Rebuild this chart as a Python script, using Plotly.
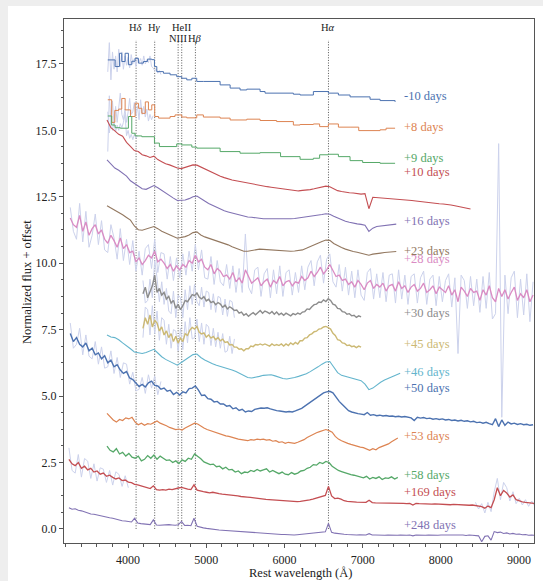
import numpy as np
import plotly.graph_objects as go

# ---------------------------------------------------------------- palette
PALETTE = ["#4C72B0", "#DD8452", "#55A868", "#C44E52", "#8172B3",
           "#937860", "#DA8BC3", "#8C8C8C", "#CCB974", "#64B5CD"]
RAW_COLOR = "#ccd2ec"
SERIF = "Liberation Serif"

# ---------------------------------------------------------------- epochs
EPOCHS = ["-10 days", "+8 days", "+9 days", "+10 days", "+16 days", "+23 days",
          "+28 days", "+30 days", "+45 days", "+46 days", "+50 days", "+53 days",
          "+58 days", "+169 days", "+248 days"]
LABEL_WL = 7500
LABEL_Y = [16.30, 15.13, 13.96, 13.44, 11.57, 10.47, 10.16, 8.13, 6.96, 5.91,
           5.31, 3.51, 2.03, 1.40, 0.15]

# ---------------------------------------------------------------- line ids
LINE_NAMES = ["H<i>δ</i>", "H<i>γ</i>", "NIII", "HeII", "H<i>β</i>", "H<i>α</i>"]
LINE_WL = [4102, 4340, 4640, 4686, 4861, 6563]
LINE_LABEL_Y = [18.88, 18.88, 18.47, 18.86, 18.47, 18.88]
LINE_TOP = 18.4

# ---------------------------------------------------------------- binned early spectra (bin start, flux)
WL_M10 = [3740, 3834, 3889, 3919, 3962, 4004, 4047, 4090, 4132, 4196, 4247, 4303,
          4337, 4367, 4452, 4537, 4622, 4686, 4750, 4815, 4878, 4963, 5177, 5305,
          5432, 5518, 5688, 5752, 6114, 6200, 6370, 6562, 6690, 6839, 7095, 7223, 7415]
FLUX_M10 = [17.65, 17.40, 17.90, 17.59, 17.90, 17.47, 17.60, 17.71, 17.53, 17.59,
            17.68, 17.66, 17.40, 17.21, 17.15, 17.09, 17.02, 16.96, 16.90, 16.96,
            16.84, 16.84, 16.71, 16.59, 16.52, 16.55, 16.46, 16.40, 16.36, 16.33,
            16.46, 16.40, 16.33, 16.26, 16.17, 16.12, 16.07]

WL_P8 = [3740, 3790, 3830, 3880, 3919, 3962, 4030, 4090, 4132, 4175, 4220, 4260,
         4303, 4340, 4390, 4537, 4600, 4686, 4750, 4878, 4963, 5177, 5305, 5518,
         5688, 5900, 6114, 6200, 6370, 6450, 6562, 6690, 6839, 6950, 7223, 7300, 7415]
FLUX_P8 = [16.15, 15.30, 15.75, 15.80, 16.20, 15.77, 15.52, 16.02, 15.83, 15.64,
           16.07, 15.77, 15.96, 15.52, 15.46, 15.52, 15.58, 15.50, 15.47, 15.58,
           15.50, 15.46, 15.39, 15.42, 15.37, 15.33, 15.20, 15.22, 15.24, 15.14,
           15.24, 15.12, 15.12, 14.99, 15.02, 15.08, 15.08]

WL_P9 = [3740, 3790, 3834, 3900, 4004, 4047, 4090, 4175, 4337, 4400, 4622, 4686,
         4815, 4878, 5177, 5432, 5688, 5950, 6200, 6370, 6450, 6562, 6690, 6839,
         7000, 7223, 7415]
FLUX_P9 = [15.54, 15.20, 15.10, 15.08, 15.52, 14.89, 14.79, 14.76, 14.52, 14.39,
           14.49, 14.45, 14.37, 14.33, 14.20, 14.14, 14.16, 14.01, 13.91, 13.95,
           14.08, 14.10, 14.01, 13.86, 13.79, 13.76, 13.76]

# ---------------------------------------------------------------- evenly sampled spectra (start, step, flux)
START_P10, STEP_P10 = 3730, 50
FLUX_P10 = [15.39, 15.10, 14.98, 14.85, 14.78, 14.55, 14.40, 14.24, 14.20, 14.08,
            14.04, 13.98, 14.03, 13.90, 13.82, 13.74, 13.70, 13.63, 13.58, 13.56,
            13.60, 13.64, 13.70, 13.69, 13.62, 13.52, 13.46, 13.40, 13.33, 13.27,
            13.22, 13.17, 13.13, 13.10, 13.07, 13.04, 13.01, 12.98, 12.96, 12.94,
            12.91, 12.88, 12.86, 12.84, 12.81, 12.78, 12.76, 12.74, 12.72, 12.72,
            12.74, 12.75, 12.77, 12.80, 12.83, 12.86, 12.90, 12.88, 12.80, 12.73,
            12.70, 12.67, 12.65, 12.64, 12.61, 12.60, 12.62, 12.05, 12.48, 12.47,
            12.45, 12.43, 12.42, 12.41, 12.40, 12.39, 12.38, 12.37, 12.36, 12.34,
            12.32, 12.30, 12.28, 12.27, 12.25, 12.24, 12.23, 12.22, 12.19, 12.16,
            12.13, 12.10, 12.07, 12.04]

START_P16, STEP_P16 = 3730, 50
FLUX_P16 = [13.89, 13.74, 13.58, 13.50, 13.38, 13.28, 13.10, 13.00, 12.88, 12.80,
            12.78, 12.86, 12.92, 12.84, 12.74, 12.62, 12.52, 12.45, 12.36, 12.37,
            12.38, 12.43, 12.50, 12.53, 12.42, 12.34, 12.25, 12.18, 12.08, 12.03,
            11.97, 11.93, 11.89, 11.84, 11.81, 11.77, 11.74, 11.73, 11.70, 11.69,
            11.67, 11.67, 11.65, 11.66, 11.65, 11.67, 11.65, 11.67, 11.68, 11.70,
            11.72, 11.73, 11.76, 11.78, 11.80, 11.83, 11.86, 11.84, 11.77, 11.70,
            11.63, 11.58, 11.54, 11.50, 11.48, 11.46, 11.43, 11.20, 11.32, 11.38,
            11.40, 11.42, 11.44, 11.46, 11.47]

START_P23, STEP_P23 = 3730, 50
FLUX_P23 = [12.16, 12.08, 12.00, 11.90, 11.82, 11.72, 11.62, 11.40, 11.26, 11.24,
            11.28, 11.34, 11.38, 11.30, 11.20, 11.14, 11.06, 11.00, 10.94, 10.96,
            11.00, 11.06, 11.15, 11.18, 11.06, 10.99, 10.94, 10.89, 10.84, 10.81,
            10.75, 10.69, 10.62, 10.56, 10.50, 10.45, 10.45, 10.48, 10.51, 10.53,
            10.52, 10.51, 10.49, 10.48, 10.47, 10.46, 10.45, 10.45, 10.46, 10.47,
            10.50, 10.56, 10.63, 10.70, 10.76, 10.82, 10.87, 10.86, 10.74, 10.65,
            10.59, 10.53, 10.48, 10.44, 10.41, 10.38, 10.35, 10.30, 10.34, 10.37,
            10.38, 10.40, 10.42, 10.43, 10.44]

START_P28, STEP_P28 = 3260, 40
FLUX_P28 = [11.70, 11.45, 11.35, 11.80, 11.20, 11.55, 11.05, 11.30, 11.45, 11.10,
            11.25, 10.90, 10.75, 11.05, 10.85, 10.60, 10.95, 10.55, 10.70, 10.40,
            10.45, 10.05, 10.20, 9.95, 10.10, 10.30, 10.20, 10.45, 10.05, 10.15,
            10.00, 9.80, 9.95, 9.70, 9.90, 9.75, 9.95, 9.85, 10.10, 10.00,
            10.30, 10.05, 10.15, 9.85, 9.75, 9.95, 9.60, 9.80, 9.70, 9.50,
            9.55, 9.40, 9.65, 9.30, 9.45, 9.25, 9.75, 9.50, 9.25, 9.35,
            9.45, 9.15, 9.30, 9.40, 9.10, 9.35, 9.25, 9.50, 9.15, 9.30,
            9.35, 9.15, 9.30, 9.25, 9.50, 9.35, 9.45, 9.70, 9.50, 9.65,
            9.85, 9.60, 9.75, 9.95, 9.70, 9.50, 9.55, 9.35, 9.40, 9.20,
            9.30, 9.10, 9.35, 9.20, 9.00, 9.25, 9.35, 9.05, 9.20, 9.10,
            9.25, 8.95, 9.15, 9.20, 8.95, 9.30, 9.05, 9.15, 8.90, 9.10,
            9.20, 8.95, 9.05, 9.25, 8.90, 9.00, 9.15, 8.85, 9.10, 9.00,
            8.90, 9.15, 8.80, 9.00, 8.55, 9.10, 8.95, 8.75, 9.05, 8.90,
            8.95, 8.60, 9.00, 8.80, 9.15, 8.70, 8.55, 9.05, 8.75, 9.00,
            8.65, 8.90, 9.10, 8.60, 8.85, 8.70, 9.00, 8.55, 8.80]
RAW_P28 = [12.10, 11.20, 10.90, 12.25, 10.80, 11.95, 10.60, 11.05, 11.85, 10.70,
           11.60, 10.50, 10.40, 11.45, 10.95, 10.15, 11.30, 10.10, 10.90, 9.95,
           10.85, 9.70, 10.45, 9.55, 10.55, 10.70, 9.80, 10.90, 9.65, 10.40,
           10.35, 9.40, 10.25, 9.35, 10.20, 9.45, 10.35, 9.55, 10.45, 9.70,
           10.70, 9.75, 10.50, 9.45, 9.40, 10.25, 9.20, 10.10, 9.30, 9.15,
           9.95, 9.05, 9.90, 8.90, 9.80, 8.90, 11.10, 9.10, 8.85, 9.75,
           9.85, 8.75, 9.60, 9.80, 8.70, 9.75, 8.85, 9.90, 8.75, 9.65,
           9.75, 8.80, 9.65, 8.90, 9.90, 9.00, 9.85, 10.10, 9.15, 10.05,
           10.30, 9.25, 10.15, 10.35, 9.30, 9.10, 9.95, 8.95, 9.85, 8.80,
           9.70, 8.70, 9.75, 8.80, 8.60, 9.65, 9.80, 8.65, 9.60, 8.70,
           9.65, 8.55, 9.55, 9.60, 8.50, 9.75, 8.65, 9.55, 8.45, 9.50,
           9.60, 8.50, 9.45, 9.70, 8.45, 9.40, 9.55, 8.40, 9.50, 8.55,
           9.35, 9.60, 8.35, 9.45, 6.60, 9.55, 9.35, 8.30, 9.50, 8.40,
           9.40, 8.15, 9.50, 8.30, 9.65, 7.90, 8.10, 14.50, 4.20, 9.55,
           8.10, 9.45, 9.70, 7.95, 9.40, 8.05, 9.60, 7.80, 9.30]

START_P30, STEP_P30 = 4190, 30
FLUX_P30 = [8.85, 9.10, 8.70, 8.95, 9.15, 9.55, 8.90, 9.05, 8.80, 8.90,
            8.65, 8.75, 8.50, 8.60, 8.30, 8.45, 8.25, 8.40, 8.60, 8.55,
            8.70, 8.82, 8.78, 8.88, 8.72, 8.66, 8.74, 8.58, 8.64, 8.52,
            8.56, 8.44, 8.52, 8.46, 8.34, 8.42, 8.28, 8.36, 8.30, 8.22,
            8.24, 8.12, 8.16, 8.04, 8.10, 8.00, 8.08, 8.14, 8.06, 8.16,
            8.22, 8.12, 8.20, 8.16, 8.10, 8.18, 8.08, 8.16, 8.06, 8.12,
            8.04, 8.12, 8.06, 8.02, 8.10, 8.06, 8.12, 8.08, 8.16, 8.18,
            8.28, 8.26, 8.36, 8.44, 8.46, 8.54, 8.52, 8.62, 8.56, 8.66,
            8.60, 8.46, 8.42, 8.30, 8.28, 8.18, 8.16, 8.08, 8.10, 8.02,
            8.04, 7.96, 8.02, 7.98]
RAW_P30 = [9.35, 8.50, 8.60, 9.40, 8.70, 10.10, 9.45, 8.55, 9.30, 8.45,
           9.05, 8.20, 8.10, 8.95, 7.95, 8.80, 8.70, 7.95, 9.00, 8.25,
           9.15, 8.45, 9.20, 8.55, 8.40, 9.10, 8.35, 8.95, 8.90, 8.25,
           8.85, 8.15, 8.75, 8.70, 8.05, 8.65, 8.00, 8.60, 8.55, 7.95]

START_P45, STEP_P45 = 4190, 30
FLUX_P45 = [7.55, 7.95, 7.70, 8.05, 7.60, 7.85, 7.75, 7.45, 7.60, 7.30,
            7.45, 7.20, 7.35, 7.05, 7.25, 7.00, 7.18, 7.05, 7.35, 7.28,
            7.48, 7.58, 7.52, 7.62, 7.40, 7.34, 7.38, 7.22, 7.30, 7.18,
            7.24, 7.12, 7.20, 7.08, 7.14, 7.02, 7.04, 6.92, 6.94, 6.84,
            6.84, 6.76, 6.78, 6.70, 6.78, 6.78, 6.88, 6.86, 6.94, 6.92,
            6.96, 6.92, 6.96, 6.92, 6.88, 6.96, 6.90, 6.94, 6.90, 6.96,
            6.88, 6.96, 6.90, 7.00, 6.94, 7.02, 6.96, 7.08, 7.08, 7.18,
            7.20, 7.30, 7.34, 7.42, 7.44, 7.52, 7.54, 7.60, 7.62, 7.58,
            7.52, 7.36, 7.28, 7.12, 7.10, 7.00, 6.98, 6.90, 6.92, 6.86,
            6.88, 6.82, 6.88, 6.84]
RAW_P45 = [7.20, 8.35, 8.25, 7.30, 8.40, 7.35, 8.20, 7.10, 7.95, 7.85,
           6.95, 7.70, 6.80, 7.50, 7.45, 6.70, 7.55, 6.75, 7.80, 7.00,
           7.95, 7.15, 7.20, 7.90, 7.05, 7.75, 6.95, 7.70, 7.60, 6.90,
           7.55, 6.85, 7.40, 6.80, 7.35, 6.65, 6.70, 7.25, 6.60, 7.15]

START_P46, STEP_P46 = 3730, 50
FLUX_P46 = [7.30, 7.22, 7.20, 7.12, 7.00, 6.90, 6.78, 6.66, 6.62, 6.60,
            6.64, 6.70, 6.76, 6.62, 6.48, 6.38, 6.30, 6.22, 6.16, 6.26,
            6.36, 6.46, 6.56, 6.58, 6.45, 6.36, 6.28, 6.22, 6.16, 6.12,
            6.08, 6.04, 5.98, 5.92, 5.84, 5.76, 5.70, 5.68, 5.70, 5.74,
            5.78, 5.80, 5.80, 5.76, 5.70, 5.66, 5.64, 5.66, 5.70, 5.74,
            5.78, 5.84, 5.92, 6.00, 6.10, 6.20, 6.28, 6.30, 6.10, 5.88,
            5.78, 5.74, 5.70, 5.66, 5.62, 5.58, 5.45, 5.24, 5.30, 5.42,
            5.52, 5.60, 5.66, 5.72, 5.80, 5.86]

START_P50, STEP_P50 = 3260, 40
FLUX_P50 = [7.35, 7.05, 7.20, 6.95, 6.85, 7.00, 6.70, 6.80, 6.55, 6.62,
            6.40, 6.52, 6.25, 6.35, 6.10, 6.18, 5.98, 5.85, 5.92, 5.68,
            5.62, 5.48, 5.36, 5.44, 5.34, 5.50, 5.56, 5.40, 5.38, 5.26,
            5.30, 5.18, 5.22, 5.06, 5.14, 5.04, 5.16, 5.12, 5.28, 5.30,
            5.38, 5.22, 5.02, 5.04, 4.90, 4.88, 4.78, 4.80, 4.70, 4.70,
            4.62, 4.64, 4.52, 4.56, 4.46, 4.50, 4.40, 4.44, 4.42, 4.50,
            4.52, 4.55, 4.54, 4.56, 4.52, 4.48, 4.45, 4.44, 4.42, 4.40,
            4.42, 4.40, 4.44, 4.48, 4.54, 4.62, 4.70, 4.80, 4.88, 4.96,
            5.04, 5.12, 5.16, 5.18, 5.12, 4.95, 4.80, 4.68, 4.55, 4.45,
            4.40, 4.36, 4.34, 4.32, 4.30, 4.38, 4.28, 4.30, 4.26, 4.28,
            4.25, 4.27, 4.24, 4.25, 4.22, 4.24, 4.21, 4.23, 4.20, 4.18,
            4.08, 4.20, 4.17, 4.19, 4.15, 4.17, 4.13, 4.15, 4.12, 4.14,
            4.10, 4.12, 4.08, 4.10, 4.06, 4.09, 4.05, 4.07, 4.03, 4.05,
            4.00, 4.02, 3.98, 4.01, 3.96, 3.92, 4.15, 3.85, 4.10, 3.90,
            4.02, 3.95, 3.98, 3.93, 3.96, 3.92, 3.94, 3.90, 3.92]
RAW_P50 = [7.75, 6.80, 6.95, 7.55, 6.55, 7.30, 6.50, 6.40, 7.05, 6.20,
           6.85, 6.05, 6.10, 6.70, 5.85, 6.45, 5.70, 6.25, 6.20, 5.45,
           5.90, 5.20, 5.25, 5.70, 5.10, 5.80, 5.30, 5.75, 5.05, 5.55]

START_P53, STEP_P53 = 3730, 40
FLUX_P53 = [4.35, 4.22, 4.10, 4.02, 4.12, 4.08, 4.18, 4.14, 4.20, 4.02,
            3.92, 3.98, 3.90, 3.96, 3.94, 4.00, 4.06, 3.98, 3.94, 3.88,
            3.82, 3.78, 3.74, 3.76, 3.72, 3.80, 3.86, 3.92, 3.98, 3.95,
            3.86, 3.80, 3.74, 3.70, 3.64, 3.62, 3.56, 3.54, 3.50, 3.48,
            3.44, 3.42, 3.38, 3.36, 3.34, 3.32, 3.36, 3.34, 3.38, 3.36,
            3.38, 3.34, 3.36, 3.30, 3.32, 3.26, 3.28, 3.22, 3.26, 3.24,
            3.22, 3.26, 3.30, 3.36, 3.44, 3.50, 3.58, 3.62, 3.66, 3.70,
            3.74, 3.70, 3.64, 3.48, 3.38, 3.32, 3.26, 3.22, 3.18, 3.14,
            3.10, 3.08, 3.06, 3.00, 2.96, 3.02, 2.98, 3.06, 3.10, 3.14,
            3.20, 3.28, 3.34, 3.42]

START_P58, STEP_P58 = 3730, 40
FLUX_P58 = [3.12, 2.96, 2.90, 3.02, 2.82, 2.88, 2.74, 2.84, 2.70, 2.66,
            2.74, 2.56, 2.62, 2.76, 2.66, 2.78, 2.62, 2.74, 2.66, 2.58,
            2.60, 2.50, 2.56, 2.46, 2.60, 2.54, 2.66, 2.62, 2.82, 2.74,
            2.64, 2.52, 2.48, 2.42, 2.44, 2.34, 2.36, 2.26, 2.32, 2.22,
            2.24, 2.14, 2.18, 2.08, 2.14, 2.12, 2.20, 2.16, 2.24, 2.18,
            2.22, 2.26, 2.14, 2.20, 2.14, 2.08, 2.14, 2.06, 2.04, 2.12,
            2.06, 2.10, 2.18, 2.20, 2.28, 2.32, 2.42, 2.40, 2.50, 2.46,
            2.54, 2.50, 2.36, 2.28, 2.20, 2.16, 2.12, 2.06, 2.04, 2.02,
            1.98, 1.96, 1.92, 1.98, 1.88, 1.94, 1.90, 1.96, 1.86, 1.92,
            1.90, 1.96, 1.88, 1.94]

START_P169, STEP_P169 = 3243, 40
FLUX_P169 = [2.62, 2.45, 2.38, 2.50, 2.28, 2.36, 2.22, 2.28, 2.14, 2.18,
             2.06, 2.10, 1.98, 2.02, 1.94, 1.88, 1.92, 1.82, 1.84, 1.76,
             1.74, 1.68, 1.66, 1.62, 1.60, 1.56, 1.52, 1.62, 1.48, 1.46,
             1.48, 1.46, 1.50, 1.48, 1.52, 1.54, 1.56, 1.52, 1.50, 1.48,
             1.66, 1.46, 1.42, 1.40, 1.38, 1.36, 1.38, 1.34, 1.33, 1.31,
             1.30, 1.28, 1.27, 1.25, 1.24, 1.22, 1.22, 1.20, 1.19, 1.17,
             1.16, 1.14, 1.13, 1.11, 1.10, 1.09, 1.08, 1.07, 1.06, 1.05,
             1.04, 1.04, 1.03, 1.03, 1.04, 1.05, 1.07, 1.09, 1.12, 1.15,
             1.18, 1.22, 1.26, 1.60, 1.24, 1.14, 1.16, 1.12, 1.06, 1.04,
             1.02, 1.02, 1.01, 1.00, 1.01, 1.00, 1.08, 0.99, 0.98, 0.98,
             0.97, 0.98, 0.97, 0.96, 0.97, 0.96, 0.97, 0.96, 0.95, 0.96,
             0.90, 0.96, 0.95, 0.94, 0.95, 0.94, 0.93, 0.94, 0.93, 0.92,
             0.93, 0.92, 0.91, 0.92, 0.91, 0.90, 0.91, 0.90, 0.89, 0.90,
             0.88, 0.86, 0.84, 0.78, 0.86, 0.80, 1.10, 1.55, 1.25, 1.45,
             1.35, 1.20, 1.28, 1.10, 1.05, 1.02, 1.00, 0.98, 0.97, 0.96]
RAW_P169_BLUE = [3.05, 2.20, 2.10, 2.80, 1.95, 2.65, 2.55, 1.90, 2.45, 1.80,
                 2.30, 2.25, 1.75, 2.20, 1.65, 2.15, 2.05, 1.60, 2.00, 1.55]
START_P169_RED = 8443
RAW_P169_RED = [1.00, 0.75, 0.95, 0.60, 1.00, 0.65, 1.40, 1.90, 1.10, 1.75,
                1.55, 1.05, 1.40, 0.95, 1.15, 0.90, 1.10, 0.85, 1.05, 0.85]

START_P248, STEP_P248 = 3243, 40
FLUX_P248 = [0.80, 0.74, 0.76, 0.70, 0.68, 0.64, 0.62, 0.56, 0.55, 0.52,
             0.50, 0.46, 0.44, 0.42, 0.40, 0.36, 0.34, 0.31, 0.30, 0.28,
             0.26, 0.40, 0.22, 0.20, 0.18, 0.17, 0.16, 0.34, 0.15, 0.14,
             0.15, 0.14, 0.16, 0.15, 0.14, 0.16, 0.28, 0.13, 0.14, 0.12,
             0.40, 0.10, 0.06, 0.04, 0.02, 0.00, -0.01, -0.03, -0.04, -0.05,
             -0.06, -0.07, -0.08, -0.09, -0.10, -0.10, -0.11, -0.12, -0.13, -0.14,
             -0.15, -0.16, -0.17, -0.18, -0.18, -0.19, -0.20, -0.20, -0.21, -0.21,
             -0.22, -0.22, -0.23, -0.22, -0.21, -0.20, -0.19, -0.18, -0.17, -0.16,
             -0.14, -0.12, -0.11, 0.21, -0.13, -0.16, -0.18, -0.19, -0.20, -0.21,
             -0.22, -0.22, -0.23, -0.22, -0.23, -0.23, -0.18, -0.23, -0.23, -0.24,
             -0.23, -0.24, -0.23, -0.24, -0.23, -0.24, -0.23, -0.24, -0.24, -0.23,
             -0.26, -0.23, -0.24, -0.23, -0.24, -0.23, -0.24, -0.23, -0.24, -0.23,
             -0.23, -0.24, -0.23, -0.24, -0.22, -0.24, -0.23, -0.25, -0.23, -0.24,
             -0.24, -0.26, -0.48, -0.28, -0.26, -0.42, -0.10, -0.14, -0.12, -0.17,
             -0.15, -0.19, -0.17, -0.20, -0.19, -0.22, -0.21, -0.24, -0.23, -0.24]

# unbinned early data near the blue edge
START_EARLY_RAW, STEP_EARLY_RAW = 3740, 20
RAW_M10 = [17.20, 18.30, 16.90, 17.95, 17.30, 17.80, 17.20, 18.05, 17.40, 17.95,
           17.30, 17.80, 17.45, 17.75, 17.35, 17.85, 17.50, 17.70, 17.40, 17.75,
           17.55, 17.70, 17.45, 17.80, 17.50, 17.65, 17.55, 17.80, 17.40, 17.35,
           17.25, 17.30, 17.15, 17.25, 17.10]
RAW_P8 = [14.20, 16.30, 15.40, 16.10, 15.20, 15.90, 15.30, 16.00, 16.40, 15.60,
          15.40, 15.80, 15.30, 15.70, 16.20, 15.60, 15.70, 16.05, 15.55, 15.90,
          15.40, 16.15, 15.60, 15.90, 15.50, 15.80, 15.35, 15.60, 15.40, 15.55]
RAW_P9 = [15.70, 14.90, 15.40, 15.00, 15.30, 14.95, 15.20, 15.00, 15.25, 15.10,
          15.30, 15.60, 14.80, 15.00, 14.70, 14.85, 14.65, 14.85, 14.70, 14.80]


def grid(start, step, values):
    """Wavelength axis for an evenly sampled spectrum."""
    return start + step * np.arange(len(values))


fig = go.Figure()


def add_line(wl, flux, color, shape="linear", width=1.0):
    fig.add_trace(go.Scatter(x=wl, y=flux, mode="lines",
                             line=dict(color=color, width=width, shape=shape),
                             hoverinfo="skip", showlegend=False))


# raw (unbinned) data, drawn underneath
add_line(grid(START_EARLY_RAW, STEP_EARLY_RAW, RAW_M10), RAW_M10, RAW_COLOR)
add_line(grid(START_EARLY_RAW, STEP_EARLY_RAW, RAW_P8), RAW_P8, RAW_COLOR)
add_line(grid(START_EARLY_RAW, STEP_EARLY_RAW, RAW_P9), RAW_P9, RAW_COLOR)
add_line(grid(START_P28, STEP_P28, RAW_P28), RAW_P28, RAW_COLOR)
add_line(grid(START_P30, STEP_P30, RAW_P30), RAW_P30, RAW_COLOR)
add_line(grid(START_P45, STEP_P45, RAW_P45), RAW_P45, RAW_COLOR)
add_line(grid(START_P50, STEP_P50, RAW_P50), RAW_P50, RAW_COLOR)
add_line(grid(START_P169, STEP_P169, RAW_P169_BLUE), RAW_P169_BLUE, RAW_COLOR)
add_line(grid(START_P169_RED, STEP_P169, RAW_P169_RED), RAW_P169_RED, RAW_COLOR)

# reduced spectra, one colour per epoch (noisier epochs drawn a touch heavier)
spectra = [
    (WL_M10, FLUX_M10, "hv", 1.0),
    (WL_P8, FLUX_P8, "hv", 1.0),
    (WL_P9, FLUX_P9, "hv", 1.0),
    (grid(START_P10, STEP_P10, FLUX_P10), FLUX_P10, "linear", 1.1),
    (grid(START_P16, STEP_P16, FLUX_P16), FLUX_P16, "linear", 1.1),
    (grid(START_P23, STEP_P23, FLUX_P23), FLUX_P23, "linear", 1.1),
    (grid(START_P28, STEP_P28, FLUX_P28), FLUX_P28, "linear", 1.3),
    (grid(START_P30, STEP_P30, FLUX_P30), FLUX_P30, "linear", 1.4),
    (grid(START_P45, STEP_P45, FLUX_P45), FLUX_P45, "linear", 1.4),
    (grid(START_P46, STEP_P46, FLUX_P46), FLUX_P46, "linear", 1.1),
    (grid(START_P50, STEP_P50, FLUX_P50), FLUX_P50, "linear", 1.4),
    (grid(START_P53, STEP_P53, FLUX_P53), FLUX_P53, "linear", 1.2),
    (grid(START_P58, STEP_P58, FLUX_P58), FLUX_P58, "linear", 1.3),
    (grid(START_P169, STEP_P169, FLUX_P169), FLUX_P169, "linear", 1.3),
    (grid(START_P248, STEP_P248, FLUX_P248), FLUX_P248, "linear", 1.1),
]
for i, (wl, flux, shape, lw) in enumerate(spectra):
    add_line(wl, flux, PALETTE[i % len(PALETTE)], shape=shape, width=lw)

# epoch labels
for i, (text, y) in enumerate(zip(EPOCHS, LABEL_Y)):
    fig.add_annotation(x=LABEL_WL, y=y, text=text, showarrow=False,
                       xanchor="left", yanchor="middle",
                       font=dict(family=SERIF, size=12.5,
                                 color=PALETTE[i % len(PALETTE)]))

# line identifications
for name, wl, ly in zip(LINE_NAMES, LINE_WL, LINE_LABEL_Y):
    fig.add_shape(type="line", xref="x", yref="y", x0=wl, x1=wl, y0=0, y1=LINE_TOP,
                  line=dict(color="#444444", width=0.9, dash="1px,1.6px"), layer="below")
    fig.add_annotation(x=wl, y=ly, text=name, showarrow=False,
                       xanchor="center", yanchor="middle",
                       font=dict(family=SERIF, size=10.5, color="#222222"))

# page geometry
W, H = 543, 581
L, R, T, B = 64, 9, 19, 38
PW, PH = W - L - R, H - T - B


def px_to_paper(x_px, y_px):
    return (x_px - L) / PW, (H - B - y_px) / PH


# border strips around the white canvas
for x0, x1, y0, y1 in [(0, 8, 0, H), (0, W, 0, 6)]:
    fx0, fy1 = px_to_paper(x0, y0)
    fx1, fy0 = px_to_paper(x1, y1)
    fig.add_shape(type="rect", xref="paper", yref="paper",
                  x0=fx0, x1=fx1, y0=fy0, y1=fy1,
                  line=dict(width=0), fillcolor="#eeeeee", layer="above")

# axis titles
tx, ty = px_to_paper(300, 573)
fig.add_annotation(x=tx, y=ty, xref="paper", yref="paper", text="Rest wavelength (Å)",
                   showarrow=False, xanchor="center", yanchor="middle",
                   font=dict(family=SERIF, size=12.5, color="#222222"))
tx, ty = px_to_paper(27, 282)
fig.add_annotation(x=tx, y=ty, xref="paper", yref="paper", text="Normalized flux + offset",
                   showarrow=False, xanchor="center", yanchor="middle", textangle=-90,
                   font=dict(family=SERIF, size=12.5, color="#222222"))

axis_common = dict(showgrid=False, zeroline=False, showline=True, mirror=True,
                   linecolor="#555555", linewidth=1, ticks="outside", ticklen=4,
                   tickwidth=1, tickcolor="#555555", automargin=False,
                   tickfont=dict(family=SERIF, size=12, color="#222222"))

fig.update_layout(
    width=W, height=H,
    margin=dict(l=L, r=R, t=T, b=B),
    paper_bgcolor="white", plot_bgcolor="white",
    font=dict(family=SERIF),
    xaxis=dict(range=[3180, 9192], tickvals=[4000, 5000, 6000, 7000, 8000, 9000],
               ticklabelstandoff=2,
               minor=dict(dtick=200, ticks="outside", ticklen=2.5, tickcolor="#555555"),
               **axis_common),
    yaxis=dict(range=[-0.53, 19.19], dtick=2.5, tick0=0, tickformat=".1f",
               minor=dict(dtick=0.625, ticks="outside", ticklen=2.5, tickcolor="#555555"),
               **axis_common),
)

fig.write_html("out.html")
